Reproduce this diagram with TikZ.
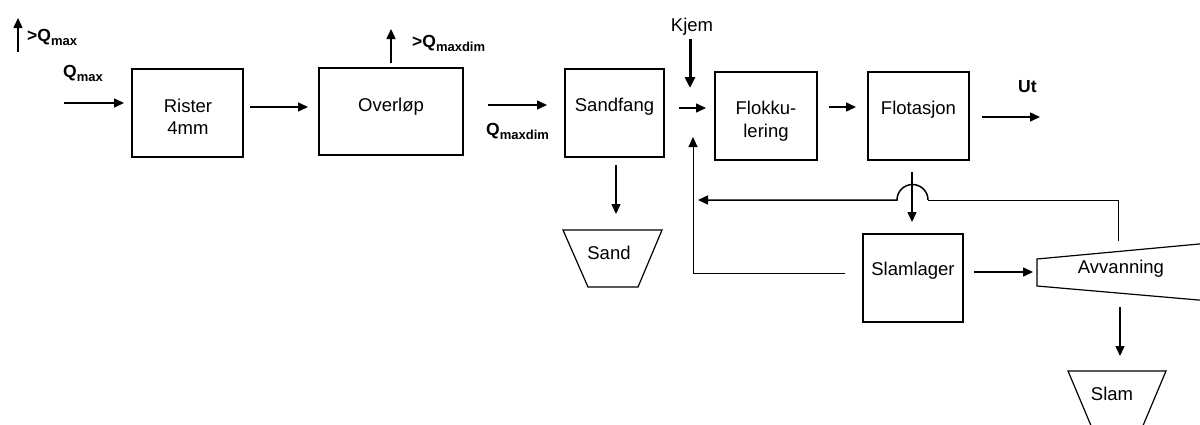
\documentclass[tikz,border=0pt]{standalone}
\usepackage{fontspec}
\setmainfont{Liberation Sans}
\usetikzlibrary{arrows.meta}
\newcommand\flowsub[1]{\raisebox{-4.8pt}{\fontsize{13}{13}\selectfont #1}}
\begin{document}
\begin{tikzpicture}[x=1pt,y=-1pt,
  box/.style={draw, line width=1.2pt, inner sep=0pt},
  txt/.style={font=\fontsize{18.5}{22}\selectfont, inner sep=0pt, anchor=base},
  lbl/.style={font=\fontsize{17.5}{19}\selectfont\bfseries, inner sep=0pt, anchor=base west},
  flow/.style={line width=1.5pt, -{Triangle[length=10pt,width=9pt]}},
  thin/.style={line width=1pt}]
\useasboundingbox (0,0) rectangle (1200,424);
\clip (0,0) rectangle (1200,424);

% process boxes
\node[box, minimum width=111pt, minimum height=88pt] (rister) at (187.5,113) {};
\node[box, minimum width=144pt, minimum height=87pt] (overlop) at (391,111.5) {};
\node[box, minimum width=99pt, minimum height=88pt] (sandfang) at (614.5,113) {};
\node[box, minimum width=102pt, minimum height=88pt] (flokk) at (766,116) {};
\node[box, minimum width=101pt, minimum height=88pt] (flot) at (918.5,116) {};
\node[box, minimum width=100pt, minimum height=88pt] (slamlager) at (913,278) {};

% hoppers and dewatering unit
\draw[line width=1.2pt] (563,230) -- (662,230) -- (638,287) -- (588,287) -- cycle;
\draw[line width=1.2pt] (1068,371) -- (1166,371) -- (1142,428) -- (1092,428) -- cycle;
\draw[line width=1.2pt] (1210,243) -- (1037,259) -- (1037,286) -- (1210,301);

% texts
\node[txt] (t-rister) at (188,112) {Rister};
\node[txt] (t-4mm) at (188,134) {4mm};
\node[txt] (t-overlop) at (391,111) {Overløp};
\node[txt] (t-sandfang) at (614.5,111) {Sandfang};
\node[txt] (t-flokk1) at (766,114.5) {Flokku-};
\node[txt] (t-flokk2) at (766,137) {lering};
\node[txt] (t-flot) at (918.5,114) {Flotasjon};
\node[txt] (t-slamlager) at (913,275) {Slamlager};
\node[txt] (t-avv) at (1121,273.5) {Avvanning};
\node[txt] (t-sand) at (609,259.5) {Sand};
\node[txt] (t-slam) at (1112,400) {Slam};
\node[txt] (t-kjem) at (692,31) {Kjem};

% flow labels
\node[lbl] (l-qmax-over) at (27,41) {>Q\flowsub{max}};
\node[lbl] (l-qmax) at (63,77) {Q\flowsub{max}};
\node[lbl] (l-qdim-over) at (412,47) {>Q\flowsub{maxdim}};
\node[lbl] (l-qdim) at (486,135) {Q\flowsub{maxdim}};
\node[lbl] (l-ut) at (1018,92.5) {Ut};

% connector end points
\coordinate (bypass-a) at (18,52);  \coordinate (bypass-b) at (18,18);
\coordinate (in-a) at (64,103);     \coordinate (in-b) at (124,103);
\coordinate (r-a) at (250,107);     \coordinate (r-b) at (308,107);
\coordinate (ov-a) at (391,63);     \coordinate (ov-b) at (391,29);
\coordinate (o-a) at (488,105);     \coordinate (o-b) at (547,105);
\coordinate (sf-a) at (616,165);    \coordinate (sf-b) at (616,214);
\coordinate (kj-a) at (690,39);     \coordinate (kj-b) at (690,88);
\coordinate (mix-a) at (679,108);   \coordinate (mix-b) at (706,108);
\coordinate (fk-a) at (829,107);    \coordinate (fk-b) at (856,107);
\coordinate (ut-a) at (982,117);    \coordinate (ut-b) at (1040,117);
\coordinate (ft-a) at (912,172);    \coordinate (ft-b) at (912,222);
\coordinate (sl-a) at (974,272);    \coordinate (sl-b) at (1033,272);
\coordinate (av-a) at (1120,307);   \coordinate (av-b) at (1120,356);
\coordinate (rej-a) at (1118,241);  \coordinate (rej-c) at (1118,200);
\coordinate (hop-r) at (928,200);   \coordinate (rej-b) at (698,200);
\coordinate (ret-a) at (845,273);   \coordinate (ret-c) at (693,273);
\coordinate (ret-b) at (693,137);

% connectors
\draw[flow] (bypass-a) -- (bypass-b);
\draw[flow] (in-a) -- (in-b);
\draw[flow] (r-a) -- (r-b);
\draw[flow] (ov-a) -- (ov-b);
\draw[flow] (o-a) -- (o-b);
\draw[flow] (sf-a) -- (sf-b);
\draw[flow, line width=3pt, -{Triangle[length=11pt,width=10pt]}] (kj-a) -- (kj-b);
\draw[flow] (mix-a) -- (mix-b);
\draw[flow] (fk-a) -- (fk-b);
\draw[flow] (ut-a) -- (ut-b);
\draw[flow] (ft-a) -- (ft-b);
\draw[flow] (sl-a) -- (sl-b);
\draw[flow] (av-a) -- (av-b);

% reject water return with line hop
\draw[thin] (rej-a) -- (rej-c) -- (hop-r);
\draw[flow] (hop-r) arc[start angle=0, end angle=-180, radius=15.5] -- (rej-b);
\draw[thin, -{Triangle[length=10pt,width=9pt]}] (ret-a) -- (ret-c) -- (ret-b);
\end{tikzpicture}
\end{document}
